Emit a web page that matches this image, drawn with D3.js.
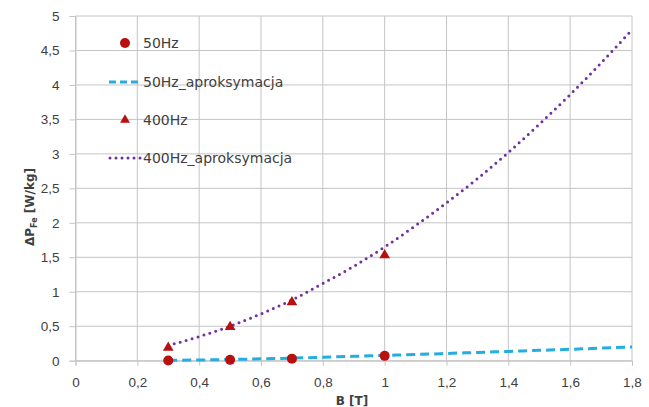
<!DOCTYPE html>
<html><head><meta charset="utf-8">
<script src="https://cdn.jsdelivr.net/npm/d3@7"></script>
<style>body{margin:0;background:#fff;}svg{display:block;font-family:"DejaVu Sans",sans-serif;}</style>
</head><body>
<svg id="c" width="649" height="407"></svg>
<script>
const xTicks = [0,0.2,0.4,0.6,0.8,1,1.2,1.4,1.6,1.8];
const yTicks = [0,0.5,1,1.5,2,2.5,3,3.5,4,4.5,5];
const B50 = [0.3,0.5,0.7,1.0];
const P50 = [0.004,0.012,0.03,0.07];
const B400 = [0.3,0.5,0.7,1.0];
const P400 = [0.19,0.49,0.85,1.53];
const Bfit = [0.3,0.4,0.5,0.6,0.7,0.8,0.9,1.0,1.1,1.2,1.3,1.4,1.5,1.6,1.7,1.8];
const P50fit = [0.005,0.01,0.018,0.027,0.038,0.05,0.063,0.077,0.09,0.105,0.12,0.135,0.15,0.165,0.182,0.2];
const P400fit = [0.22,0.35,0.5,0.68,0.88,1.12,1.37,1.65,1.96,2.29,2.64,3.02,3.43,3.86,4.32,4.8];
const legendLabels = ["50Hz","50Hz_aproksymacja","400Hz","400Hz_aproksymacja"];

const svg = d3.select("#c");
const x = d3.scaleLinear().domain([0,1.8]).range([75.5,632]);
const y = d3.scaleLinear().domain([0,5]).range([360.7,16]);
const fmt = d => String(d).replace(".", ",");
const grid = "#c4c4c4", txt = "#404040";

// gridlines
svg.append("g").selectAll("line").data(yTicks).join("line")
  .attr("x1",x(0)).attr("x2",x(1.8)).attr("y1",d=>y(d)).attr("y2",d=>y(d))
  .attr("stroke",grid).attr("stroke-width",1);
svg.append("g").selectAll("line").data(xTicks).join("line")
  .attr("x1",d=>x(d)).attr("x2",d=>x(d)).attr("y1",y(0)).attr("y2",y(5))
  .attr("stroke",grid).attr("stroke-width",1);

// axes
const yAxis = svg.append("g").attr("transform",`translate(${x(0)},0)`)
  .call(d3.axisLeft(y).tickValues(yTicks).tickFormat(fmt).tickSize(6).tickPadding(10));
const xAxis = svg.append("g").attr("transform",`translate(0,${y(0)})`)
  .call(d3.axisBottom(x).tickValues(xTicks).tickFormat(fmt).tickSize(5).tickPadding(12));
[yAxis,xAxis].forEach(a=>{
  a.selectAll("path,line").attr("stroke",grid);
  a.selectAll("text").attr("fill",txt).style("font-size","13.5px");
});

// fits
const line = d3.line().x(d=>x(d[0])).y(d=>y(d[1])).curve(d3.curveMonotoneX);
svg.append("path").datum(Bfit.map((b,i)=>[b,P50fit[i]]))
  .attr("d",line).attr("fill","none").attr("stroke","#25ace0").attr("stroke-width",3)
  .attr("stroke-dasharray","9,5");
svg.append("path").datum(Bfit.map((b,i)=>[b,P400fit[i]]))
  .attr("d",line).attr("fill","none").attr("stroke","#7030a0").attr("stroke-width",3)
  .attr("stroke-dasharray","0,6.2").attr("stroke-linecap","round");

// markers
const mk = "#b80f0f";
svg.append("g").selectAll("circle").data(B50.map((b,i)=>[b,P50[i]])).join("circle")
  .attr("cx",d=>x(d[0])).attr("cy",d=>y(d[1])).attr("r",5).attr("fill",mk);
const tri = d3.symbol().type(d3.symbolTriangle).size(50);
svg.append("g").selectAll("path").data(B400.map((b,i)=>[b,P400[i]])).join("path")
  .attr("d",tri).attr("transform",d=>`translate(${x(d[0])},${y(d[1])})`).attr("fill",mk);

// legend
const lg = svg.append("g");
const ly = [43,82,120,158];
lg.append("circle").attr("cx",125).attr("cy",ly[0]).attr("r",5).attr("fill",mk);
lg.append("line").attr("x1",109).attr("x2",141).attr("y1",ly[1]).attr("y2",ly[1])
  .attr("stroke","#25ace0").attr("stroke-width",3).attr("stroke-dasharray","7,4");
lg.append("path").attr("d",d3.symbol().type(d3.symbolTriangle).size(42)).attr("transform",`translate(125,${ly[2]})`).attr("fill",mk);
lg.append("line").attr("x1",110).attr("x2",141).attr("y1",ly[3]).attr("y2",ly[3])
  .attr("stroke","#7030a0").attr("stroke-width",3).attr("stroke-dasharray","0,6").attr("stroke-linecap","round");
lg.selectAll("text").data(legendLabels).join("text")
  .attr("x",143).attr("y",(d,i)=>ly[i]).attr("dy","0.35em")
  .attr("fill",txt).style("font-size","14px").text(d=>d);

// axis titles
svg.append("text").attr("x",352).attr("y",405).attr("text-anchor","middle")
  .attr("fill",txt).style("font-size","12px").style("font-weight","bold").text("B [T]");
const yt = svg.append("text").attr("transform","translate(34,207) rotate(-90)")
  .attr("text-anchor","middle").attr("fill",txt).style("font-size","12px").style("font-weight","bold");
yt.append("tspan").text("ΔP");
yt.append("tspan").attr("dy",3).style("font-size","8px").text("Fe");
yt.append("tspan").attr("dy",-3).text(" [W/kg]");
</script>
</body></html>
